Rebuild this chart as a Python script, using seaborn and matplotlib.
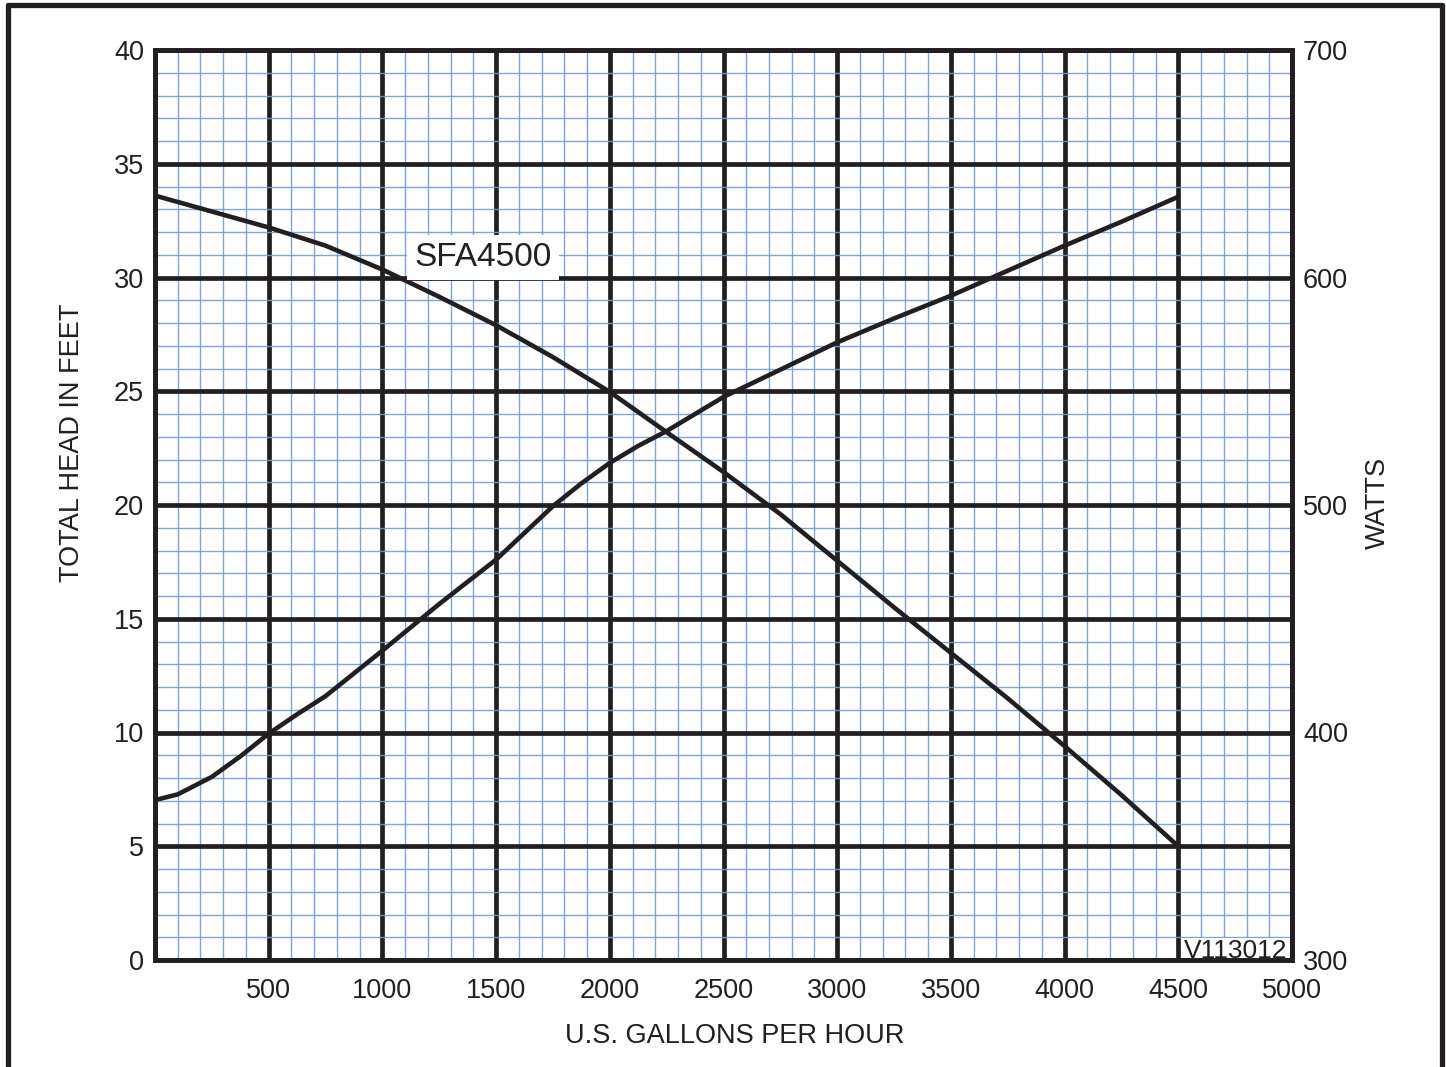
import numpy as np
import pandas as pd
import matplotlib
matplotlib.use("Agg")
import matplotlib.pyplot as plt
import seaborn as sns
from matplotlib.lines import Line2D

# ---- data ----
head_gph = [0, 250, 500, 750, 1000, 1250, 1500, 1750, 2000, 2250, 2500,
            2750, 3000, 3250, 3500, 3750, 4000, 4250, 4500]
head_ft = [33.6, 32.9, 32.2, 31.4, 30.35, 29.15, 27.9, 26.5, 24.97, 23.2, 21.45,
           19.6, 17.55, 15.5, 13.5, 11.5, 9.4, 7.25, 5.0]

watts_gph = [0, 100, 250, 375, 500, 625, 750, 875, 1000, 1250, 1500, 1750, 1875, 2000, 2125,
             2250, 2500, 2750, 3000, 3250, 3500, 3750, 4000, 4250, 4500]
watts_w = [370.3, 372.8, 380.5, 389.5, 399.5, 408, 416, 426, 436, 456.5, 476, 499.5, 509.5,
           518.5, 526, 532.5, 547.5, 559.5, 571.5, 582, 592, 603, 614, 624.5, 635.5]

x_ticks = [0, 500, 1000, 1500, 2000, 2500, 3000, 3500, 4000, 4500, 5000]
x_labels = ["", "500", "1000", "1500", "2000", "2500", "3000", "3500", "4000", "4500", "5000"]
y_ticks = [0, 5, 10, 15, 20, 25, 30, 35, 40]
w_ticks = [300, 400, 500, 600, 700]

model_label = "SFA4500"
code_label = "V113012"

# ---- style ----
sns.set_style("white")
plt.rcParams["font.family"] = ["Liberation Sans", "DejaVu Sans"]
INK = "#231f20"
BLUE = "#6d9ce0"
FS = 19.5

fig = plt.figure(figsize=(14.46, 10.67), dpi=100)
ax = fig.add_axes([155 / 1446, 1 - 960 / 1067, (1292 - 155) / 1446, (960 - 50) / 1067])
ax2 = ax.twinx()

head_df = pd.DataFrame({"gph": head_gph, "ft": head_ft})
watts_df = pd.DataFrame({"gph": watts_gph, "w": watts_w})

sns.lineplot(data=head_df, x="gph", y="ft", ax=ax, color=INK, lw=3.3,
             solid_capstyle="butt", solid_joinstyle="round", zorder=5)
sns.lineplot(data=watts_df, x="gph", y="w", ax=ax2, color=INK, lw=3.3,
             solid_capstyle="butt", solid_joinstyle="round", zorder=5)

ax.set_xlim(0, 5000)
ax.set_ylim(0, 40)
ax2.set_ylim(300, 700)

ax.set_xticks(x_ticks)
ax.set_xticklabels(x_labels)
ax.set_xticks(np.arange(0, 5001, 100), minor=True)
ax.set_yticks(y_ticks)
ax.set_yticklabels([str(v) for v in y_ticks])
ax.set_yticks(np.arange(0, 40.1, 1), minor=True)
ax2.set_yticks(w_ticks)
ax2.set_yticklabels([str(v) for v in w_ticks])

ax.set_axisbelow(True)
ax.grid(which="minor", color=BLUE, lw=1.0, alpha=0.9)
ax.grid(which="major", color=INK, lw=3.4)

ax.tick_params(which="both", length=0)
ax.tick_params(axis="x", labelsize=FS, colors=INK, pad=13)
ax.tick_params(axis="y", labelsize=FS, colors=INK, pad=8)
ax2.tick_params(axis="y", length=0, labelsize=FS, colors=INK, pad=8)

for a in (ax, ax2):
    for s in a.spines.values():
        s.set_color(INK)
        s.set_linewidth(3.4)
        s.set_visible(True)

ax.set_xlabel("U.S. GALLONS PER HOUR", fontsize=FS, color=INK, va="center")
ax.xaxis.set_label_coords(0.510, -0.0835)
ax.set_ylabel("TOTAL HEAD IN FEET", fontsize=FS, color=INK, va="center")
ax.yaxis.set_label_coords(-0.073, 0.568)
ax2.set_ylabel("WATTS", fontsize=FS, color=INK, va="center")
ax2.yaxis.set_label_coords(1.0756, 0.502)

ax.text(1442, 30.9, model_label, fontsize=24, color=INK, ha="center", va="center",
        zorder=6, bbox=dict(facecolor="white", edgecolor="none", pad=5))
ax.text(4980, -0.15, code_label, fontsize=19, color=INK, ha="right", va="bottom",
        zorder=2.4, bbox=dict(facecolor="white", edgecolor="none", pad=1))

# outer frame
for xs, ys in [([7.5 / 1446, 7.5 / 1446], [-0.05, 1 - 4.5 / 1067]),
               ([7.5 / 1446, 1442 / 1446], [1 - 4.5 / 1067, 1 - 4.5 / 1067]),
               ([1442 / 1446, 1442 / 1446], [1 - 4.5 / 1067, -0.05])]:
    fig.add_artist(Line2D(xs, ys, transform=fig.transFigure, color=INK, lw=3.8))

fig.savefig("out.png", dpi=100)
